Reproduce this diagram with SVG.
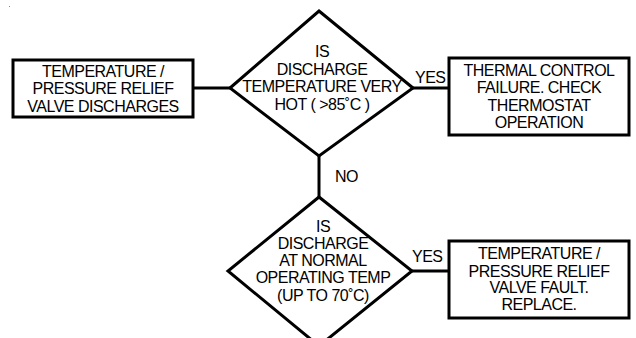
<svg xmlns="http://www.w3.org/2000/svg" width="636" height="338" viewBox="0 0 636 338">
<style>
.box{fill:#fff;stroke:#000;stroke-width:3}
.dia{fill:#fff;stroke:#000;stroke-width:3;stroke-linejoin:miter}
.con{stroke:#000;stroke-width:3;fill:none}
text{font-family:"Liberation Sans",Arial,sans-serif;font-size:16px;letter-spacing:-0.5px;fill:#000}
.c{text-anchor:middle}
</style>
<rect x="0" y="0" width="636" height="338" fill="#fff"/>
<rect x="9" y="6" width="1" height="1" fill="#888"/>
<g id="connectors">
<line class="con" x1="193" y1="88" x2="231" y2="88"/>
<line class="con" x1="413" y1="88" x2="449" y2="88"/>
<line class="con" x1="319" y1="155" x2="319" y2="198"/>
<line class="con" x1="412" y1="271" x2="449" y2="271"/>
<text x="415" y="83">YES</text>
<text x="335" y="182">NO</text>
<text x="412" y="262">YES</text>
</g>
<g id="start">
<rect class="box" x="13" y="60" width="180" height="57"/>
<text class="c" x="103" y="77">TEMPERATURE /</text>
<text class="c" x="103" y="94">PRESSURE RELIEF</text>
<text class="c" x="103" y="112">VALVE DISCHARGES</text>
</g>
<g id="decision1">
<polygon class="dia" points="319,11 413,88 319,156 230,88"/>
<text class="c" x="322" y="57">IS</text>
<text class="c" x="322" y="75">DISCHARGE</text>
<text class="c" x="322" y="92">TEMPERATURE VERY</text>
<text class="c" x="322" y="110">HOT ( &gt;85˚C )</text>
</g>
<g id="result1">
<rect class="box" x="449" y="58" width="180" height="77"/>
<text class="c" x="539" y="76">THERMAL CONTROL</text>
<text class="c" x="539" y="93">FAILURE. CHECK</text>
<text class="c" x="539" y="111">THERMOSTAT</text>
<text class="c" x="539" y="128">OPERATION</text>
</g>
<g id="decision2">
<polygon class="dia" points="319,197 412,271 319,346 228,271"/>
<text class="c" x="323" y="232">IS</text>
<text class="c" x="323" y="249">DISCHARGE</text>
<text class="c" x="323" y="266">AT NORMAL</text>
<text class="c" x="323" y="283">OPERATING TEMP</text>
<text class="c" x="323" y="301">(UP TO 70˚C)</text>
</g>
<g id="result2">
<rect class="box" x="449" y="241" width="180" height="77"/>
<text class="c" x="539" y="259">TEMPERATURE /</text>
<text class="c" x="539" y="277">PRESSURE RELIEF</text>
<text class="c" x="539" y="293">VALVE FAULT.</text>
<text class="c" x="539" y="310">REPLACE.</text>
</g>
</svg>
